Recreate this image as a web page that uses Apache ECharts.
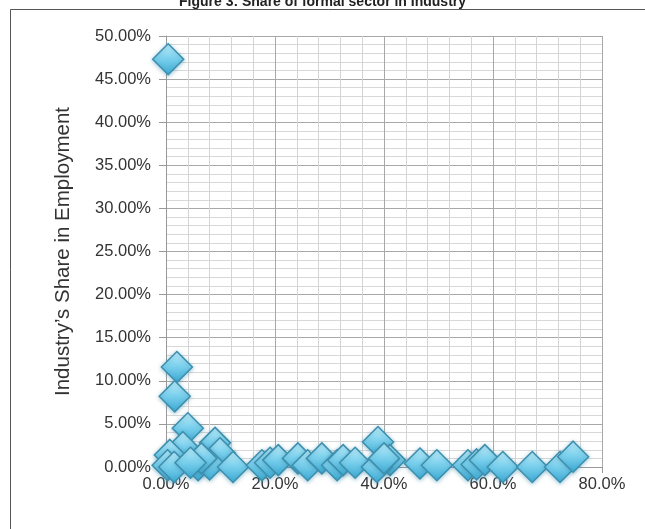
<!DOCTYPE html>
<html>
<head>
<meta charset="utf-8">
<script src="https://cdn.jsdelivr.net/npm/echarts@6/dist/echarts.min.js"></script>
<style>
html,body{margin:0;padding:0;background:#fff;}
#c{width:645px;height:529px;}
</style>
</head>
<body>
<div id="c"></div>
<script>
// Data (x: formal sector share %, y: industry's share in employment %)
var xVals = [0.4, 2.0, 1.6, 4.0, 3.1, 0.7, 0.3, 1.5, 5.9, 9.0, 9.9, 8.0, 6.5, 4.5, 12.3, 17.6, 19.1, 20.6, 24.2, 26.0, 28.6, 31.4, 32.5, 34.7, 38.9, 41.1, 38.7, 40.0, 46.6, 49.7, 55.4, 57.0, 58.5, 61.8, 67.2, 72.3, 74.7];
var yVals = [47.3, 11.6, 8.2, 4.5, 2.3, 1.4, 0.2, 0.0, 0.2, 2.8, 1.6, 0.3, 1.0, 0.5, 0.0, 0.2, 0.5, 0.8, 1.0, 0.2, 1.0, 0.2, 0.8, 0.5, 2.9, 0.8, 0.0, 1.0, 0.4, 0.2, 0.2, 0.3, 0.8, 0.0, 0.0, 0.0, 1.2];
var xTicks = [0, 20, 40, 60, 80];
var yTicks = [0, 5, 10, 15, 20, 25, 30, 35, 40, 45, 50];
var titleText = 'Figure 3: Share of formal sector in Industry';
var yName = 'Industry\u2019s Share in Employment';

var points = xVals.map(function (x, i) { return [x, yVals[i]]; });

var chart = echarts.init(document.getElementById('c'), null, {renderer: 'canvas'});
var fontFam = '"Liberation Sans", Arial, sans-serif';
chart.setOption({
  backgroundColor: '#ffffff',
  animation: false,
  title: {
    text: titleText,
    left: 'center',
    top: -10,
    textStyle: {fontFamily: fontFam, fontSize: 14, fontWeight: 'bold', color: '#222'}
  },
  graphic: [{
    type: 'polyline',
    shape: {points: [[10.5, 600], [10.5, 9.5], [700, 9.5]]},
    style: {stroke: '#555', lineWidth: 1, fill: null},
    silent: true
  }],
  grid: {left: 166, right: 43, top: 36, bottom: 62, containLabel: false},
  xAxis: {
    type: 'value',
    min: xTicks[0],
    max: xTicks[xTicks.length - 1],
    interval: 20,
    axisLine: {show: true, lineStyle: {color: '#999', width: 1}},
    axisTick: {show: true, length: 6, lineStyle: {color: '#999'}},
    minorTick: {show: false, splitNumber: 5},
    axisLabel: {
      fontFamily: fontFam, fontSize: 16.5, color: '#333', margin: 9,
      formatter: function (v) { return v === 0 ? '0.00%' : v.toFixed(1) + '%'; }
    },
    splitLine: {show: true, lineStyle: {color: '#a8a8a8', width: 1}},
    minorSplitLine: {show: true, lineStyle: {color: '#d4d4d4', width: 1}}
  },
  yAxis: {
    type: 'value',
    min: yTicks[0],
    max: yTicks[yTicks.length - 1],
    interval: 5,
    name: yName,
    nameLocation: 'middle',
    nameGap: 92,
    nameTextStyle: {fontFamily: fontFam, fontSize: 20.5, color: '#333'},
    axisLine: {show: true, lineStyle: {color: '#999', width: 1}},
    axisTick: {show: true, length: 7, lineStyle: {color: '#999'}},
    minorTick: {show: false, splitNumber: 5},
    axisLabel: {
      fontFamily: fontFam, fontSize: 16.5, color: '#333', margin: 15,
      formatter: function (v) { return v.toFixed(2) + '%'; }
    },
    splitLine: {show: true, lineStyle: {color: '#a8a8a8', width: 1}},
    minorSplitLine: {show: true, lineStyle: {color: '#d8d8d8', width: 1}}
  },
  series: [{
    type: 'scatter',
    data: points,
    symbol: 'diamond',
    symbolSize: [31, 31],
    itemStyle: {
      color: new echarts.graphic.LinearGradient(0, 0, 0, 1, [
        {offset: 0, color: '#c6f0fb'},
        {offset: 0.45, color: '#7ed2ee'},
        {offset: 1, color: '#3aa9d3'}
      ]),
      borderColor: '#3c8fae',
      borderWidth: 1.5,
      shadowColor: 'rgba(60,140,170,0.45)',
      shadowBlur: 4,
      shadowOffsetY: 1,
      opacity: 1
    }
  }]
});
</script>
</body>
</html>
